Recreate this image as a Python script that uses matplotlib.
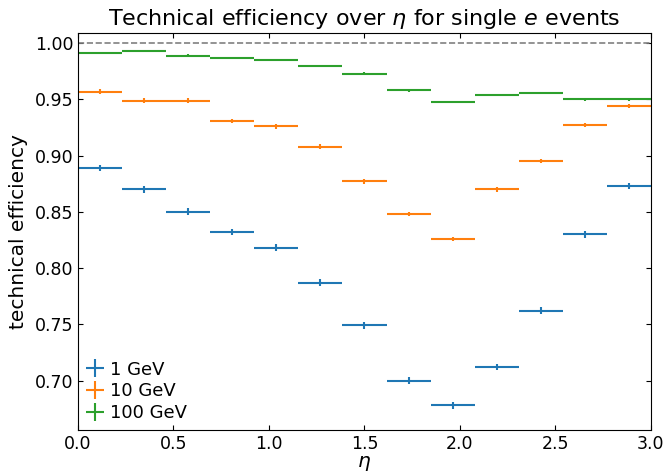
import numpy as np
import matplotlib
matplotlib.use('Agg')
import matplotlib.pyplot as plt

# eta bins: 13 bins from 0 to 3
eta_edges = np.linspace(0, 3.0, 14)
eta = (eta_edges[:-1] + eta_edges[1:]) / 2
eta_err = (eta_edges[1:] - eta_edges[:-1]) / 2

eff_1gev = [0.889, 0.870, 0.850, 0.832, 0.818, 0.787, 0.749, 0.700, 0.678, 0.712, 0.762, 0.830, 0.873]
err_1gev = [0.003] * 13
eff_10gev = [0.957, 0.949, 0.949, 0.931, 0.926, 0.908, 0.877, 0.848, 0.826, 0.870, 0.895, 0.927, 0.944]
err_10gev = [0.002] * 13
eff_100gev = [0.991, 0.993, 0.989, 0.987, 0.985, 0.980, 0.973, 0.958, 0.948, 0.954, 0.956, 0.950, 0.950]
err_100gev = [0.001] * 13

labels = ['1 GeV', '10 GeV', '100 GeV']
colors = ['tab:blue', 'tab:orange', 'tab:green']

fig = plt.figure(figsize=(6.69, 4.72), dpi=100)
ax = fig.add_axes([0.1166, 0.089, 0.8564, 0.841])

ax.axhline(1.0, color='gray', linestyle='--', linewidth=1.2)
for y, e, lab, c in zip([eff_1gev, eff_10gev, eff_100gev], [err_1gev, err_10gev, err_100gev], labels, colors):
    ax.errorbar(eta, y, xerr=eta_err, yerr=e, fmt='none', color=c, label=lab, linewidth=1.5)

ax.set_xlim(0, 3.0)
ax.set_ylim(0.656, 1.009)
ax.set_xlabel(r'$\eta$', fontsize=14.5, labelpad=1)
ax.set_ylabel('technical efficiency', fontsize=14.5, labelpad=5)
ax.set_title(r'Technical efficiency over $\eta$ for single $e$ events', fontsize=16)
ax.tick_params(direction='in', top=True, right=True, labelsize=12.5)
ax.legend(loc='lower left', frameon=False, fontsize=13, handlelength=1.0, handletextpad=0.3,
          borderaxespad=0.15, labelspacing=0.2, borderpad=0.3)

fig.savefig('out.png', dpi=100)
